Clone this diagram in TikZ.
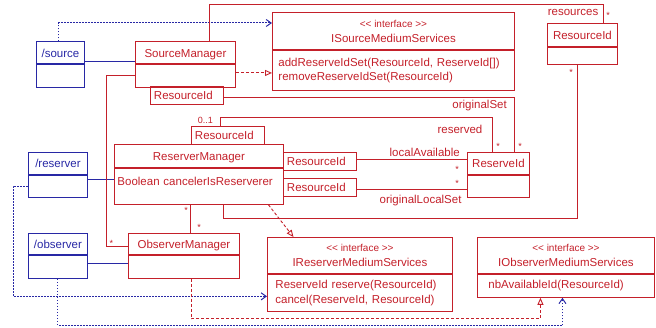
\documentclass[tikz,border=0pt]{standalone}
\usepackage{fontspec}
\setmainfont{Liberation Sans}
\usetikzlibrary{arrows.meta}
\definecolor{umlred}{RGB}{196,32,42}
\definecolor{umlblue}{RGB}{40,40,165}

\begin{document}
\begin{tikzpicture}[x=1pt,y=-1pt,
umlbox/.style={draw=umlred, text=umlred, line width=0.9pt, inner sep=0pt, font=\fontsize{11.5}{14.5}\selectfont},
blueside/.style={draw=umlblue, text=umlblue},
classhead/.style={umlbox, anchor=north west, text height=8.3pt, text depth=0pt},
classbody/.style={umlbox, anchor=north},
iface/.style={umlbox, anchor=north west, align=center, font=\fontsize{11.5}{15}\selectfont},
qualbox/.style={umlbox, anchor=north west, inner xsep=3.5pt, text width=66pt, align=left, minimum height=18pt, text height=8.3pt, text depth=0pt},
assoc/.style={umlred, line width=0.9pt},
realize/.style={umlred, line width=0.9pt, dash pattern=on 3pt off 2pt, -{Triangle[open, length=7pt, width=6pt]}},
depends/.style={umlblue, line width=1pt, dash pattern=on 1.6pt off 1.4pt, -{Straight Barb[length=5pt, width=7pt]}},
bluelink/.style={umlblue, line width=0.9pt},
role/.style={text=umlred, inner sep=0pt, font=\fontsize{11.5}{14}\selectfont},
mult/.style={text=umlred, inner sep=0pt, anchor=base, font=\fontsize{9}{10}\selectfont}
]
    \useasboundingbox (0,0) rectangle (656,328);

    % roles
    \node[classhead, blueside, minimum width=48, minimum height=22] (srch) at (36,41.5) {/source};
    \node[classbody, blueside, minimum width=48, minimum height=22.2] (srcb) at (srch.south) {};
    \node[classhead, blueside, minimum width=59, minimum height=22] (rsvh) at (28,152) {/reserver};
    \node[classbody, blueside, minimum width=59, minimum height=22] (rsvb) at (rsvh.south) {};
    \node[classhead, blueside, minimum width=59, minimum height=21] (obsh) at (28,233) {/observer};
    \node[classbody, blueside, minimum width=59, minimum height=23] (obsb) at (obsh.south) {};

    % managers
    \node[classhead, minimum width=100, minimum height=22] (smh) at (135,41.5) {SourceManager};
    \node[classbody, minimum width=100, minimum height=22.2] (smb) at (smh.south) {};
    \node[qualbox] (rid1) at (150,85.7) {ResourceId};

    \node[classhead, minimum width=169, minimum height=23] (rmh) at (114,144) {ReserverManager};
    \node[classbody, minimum height=36, inner xsep=3pt, text width=163pt, align=left, text height=8.3pt, text depth=10pt] (rmb) at (rmh.south) {Boolean cancelerIsReserverer};
    \node[qualbox] (rid2) at (191,126) {ResourceId};
    \node[qualbox] (rid3) at (283,152) {ResourceId};
    \node[qualbox] (rid4) at (283,178) {ResourceId};

    \node[classhead, minimum width=111, minimum height=21] (omh) at (128,233) {ObserverManager};
    \node[classbody, minimum width=111, minimum height=23] (omb) at (omh.south) {};

    % data classes
    \node[classhead, minimum width=70, minimum height=23] (resh) at (547,23) {ResourceId};
    \node[classbody, minimum width=70, minimum height=17] (resb) at (resh.south) {};
    \node[classhead, minimum width=62, minimum height=22] (rvidh) at (467,152) {ReserveId};
    \node[classbody, minimum width=62, minimum height=22] (rvidb) at (rvidh.south) {};

    % interfaces
    \node[iface, minimum width=242, minimum height=37] (ismh) at (272,12) {{\fontsize{10}{15}\selectfont <{}< interface >{}>}\\ISourceMediumServices};
    \node[classbody, minimum height=40, inner xsep=6pt, text width=230pt, align=left] (ismb) at (ismh.south) {addReserveIdSet(ResourceId, ReserveId[])\\removeReserveIdSet(ResourceId)};
    \node[iface, minimum width=185, minimum height=36] (irmh) at (267,237) {{\fontsize{10}{15}\selectfont <{}< interface >{}>}\\IReserverMediumServices};
    \node[classbody, minimum height=37, inner xsep=8pt, text width=169pt, align=left] (irmb) at (irmh.south) {ReserveId reserve(ResourceId)\\cancel(ReserveId, ResourceId)};
    \node[iface, minimum width=177, minimum height=36] (iomh) at (477,237) {{\fontsize{10}{15}\selectfont <{}< interface >{}>}\\IObserverMediumServices};
    \node[classbody, minimum height=23, inner xsep=11pt, text width=155pt, align=left] (iomb) at (iomh.south) {nbAvailableId(ResourceId)};

    % role links
    \draw[bluelink] ([yshift=3pt]srch.south east) -- ([yshift=3pt]smh.south west);
    \draw[bluelink] ([yshift=7pt]rsvb.east) -- ([yshift=7pt]rsvb.east -| rmb.west);
    \draw[bluelink] ([yshift=3.5pt]obsb.east) -- ([yshift=3.5pt]obsb.east -| omb.west);

    % dependencies
    \draw[depends] ([xshift=-2pt]srch.north) |- ([yshift=-11pt]ismh.north west);
    \draw[depends] (rsvb.west) -- ++(-15,0) |- ([yshift=-3.5pt]irmb.west);
    \draw[depends] (obsb.south) -- ++(0,47) -| ([xshift=-3.5pt]iomb.south);

    % realizations
    \draw[realize] ([yshift=3pt]smb.east) -- ([yshift=3pt]smb.east -| ismb.west);
    \draw[realize] ([xshift=69.5pt]rmb.south) -- ([xshift=-66.5pt]irmh.north);
    \draw[realize] ([xshift=7.5pt]omb.south) -- ++(0,40) -| ([xshift=-25.5pt]iomb.south);

    % associations
    \draw[assoc] ([xshift=24pt]smh.north) -- ++(0,-37) -| ([xshift=21pt]resh.north);
    \draw[assoc] (smb.west) -- ++(-29,0) |- ([yshift=-3pt]omh.west);
    \draw[assoc] ([yshift=-2pt]rid1.east) -| ([xshift=16pt]rvidh.north);
    \draw[assoc] ([xshift=-7.5pt]rid2.north) -- ++(0,-9) -| ([xshift=-6pt]rvidh.north);
    \draw[assoc] ([yshift=2pt]rid3.east) -- ([yshift=2pt]rid3.east -| rvidh.west);
    \draw[assoc] ([yshift=-2pt]rid4.east) -- ([yshift=-2pt]rid4.east -| rvidb.west);
    \draw[assoc] ([xshift=-5pt]resb.south) -- ++(0,154) -| ([xshift=24.5pt]rmb.south);
    \draw[assoc] ([xshift=-8.5pt]rmb.south) -- ([xshift=-8.5pt]rmb.south |- omh.north);

    % role names and multiplicities
    \node[role, anchor=base east] (lresources) at (598.5,16) {resources};
    \node[role, anchor=base east] (lorigset) at (507,108.5) {originalSet};
    \node[role, anchor=base east] (lreserved) at (482.5,134) {reserved};
    \node[role, anchor=base east] (llocal) at (460,156.5) {localAvailable};
    \node[role, anchor=base east] (lloclset) at (461.7,204) {originalLocalSet};
    \node[role, anchor=base west, font=\fontsize{9}{10}\selectfont] (lzeroone) at (197.7,123.3) {0..1};

    \node[mult] (m1) at (608,19) {*};
    \node[mult] (m2) at (571,75.7) {*};
    \node[mult] (m3) at (520,149.5) {*};
    \node[mult] (m4) at (498,149.5) {*};
    \node[mult] (m5) at (457,172.5) {*};
    \node[mult] (m6) at (457,187) {*};
    \node[mult] (m7) at (186,213.5) {*};
    \node[mult] (m8) at (199,231) {*};
    \node[mult] (m9) at (111.5,246.5) {*};
\end{tikzpicture}
\end{document}
